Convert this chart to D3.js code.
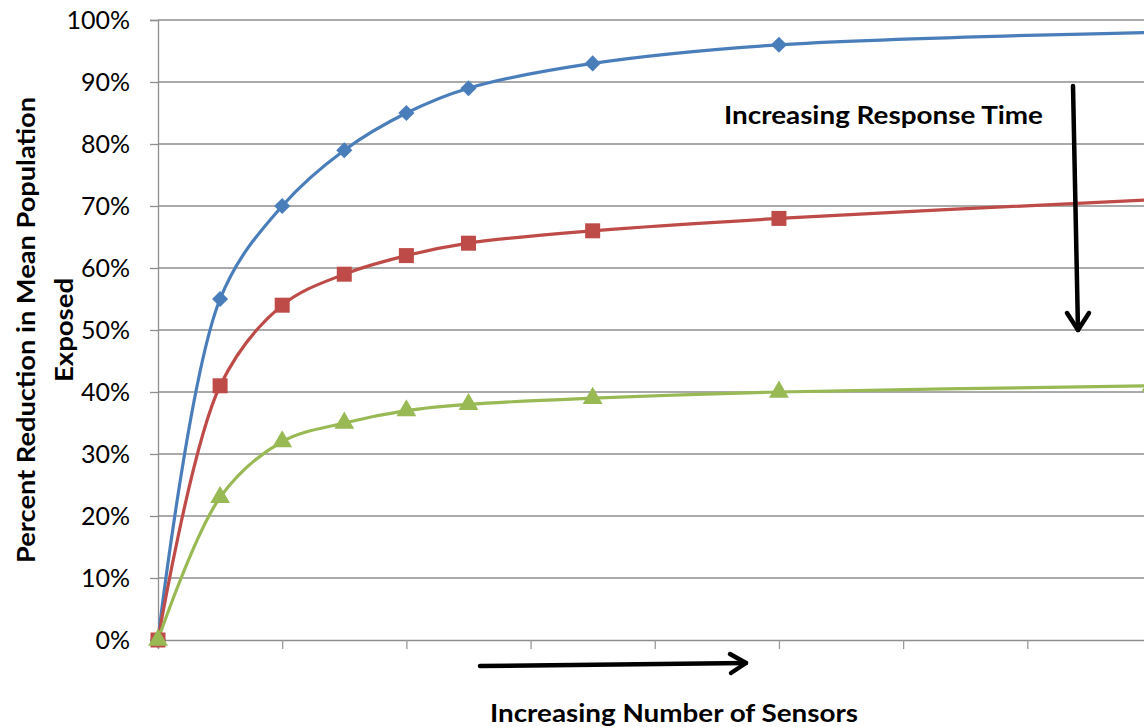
<!DOCTYPE html>
<html><head><meta charset="utf-8">
<script src="https://cdn.jsdelivr.net/npm/d3@7"></script>
<style>
html,body{margin:0;padding:0;background:#fff;overflow:hidden;}
svg{display:block;}
text{font-family:Lato,"Open Sans",sans-serif;fill:#000;}
</style></head>
<body>
<svg id="chart" width="1144" height="727"></svg>
<script>
const sensors = [0, 5, 10, 15, 20, 25, 35, 50, 80];
const fastResponse = [0, 55, 70, 79, 85, 89, 93, 96, 98];
const mediumResponse = [0, 41, 54, 59, 62, 64, 66, 68, 71];
const slowResponse = [0, 23, 32, 35, 37, 38, 39, 40, 41];
const yTicks = [0, 10, 20, 30, 40, 50, 60, 70, 80, 90, 100];
const xTicks = [0, 10, 20, 30, 40, 50, 60, 70, 80];

const diamond = {draw(ctx, size) { const r = Math.sqrt(size / 2); ctx.moveTo(0, -r); ctx.lineTo(r, 0); ctx.lineTo(0, r); ctx.lineTo(-r, 0); ctx.closePath(); }};

const series = [
  {values: fastResponse, color: "#4A7EBB", symbol: diamond, size: 130},
  {values: mediumResponse, color: "#BE4B48", symbol: d3.symbolSquare, size: 225},
  {values: slowResponse, color: "#98B954", symbol: d3.symbolTriangle, size: 170}
];

const svg = d3.select("#chart");
const x = d3.scaleLinear().domain([0, 80]).range([158, 1151.5]);
const y = d3.scaleLinear().domain([0, 100]).range([640, 20]);

// gridlines
svg.append("g").selectAll("line").data(yTicks.filter(d => d > 0)).join("line")
  .attr("x1", 158).attr("x2", 1160)
  .attr("y1", d => y(d)).attr("y2", d => y(d))
  .attr("stroke", "#8e8e8e").attr("stroke-width", 1.3);

// y axis
const yAxis = d3.axisLeft(y).tickValues(yTicks).tickSize(8).tickPadding(20)
  .tickFormat(d => d + "%");
const gy = svg.append("g").attr("transform", "translate(158,0)").call(yAxis);
gy.select(".domain").attr("stroke", "#8e8e8e").attr("stroke-width", 1.3);
gy.selectAll(".tick line").attr("stroke", "#8e8e8e").attr("stroke-width", 1.3);
gy.selectAll(".tick text").style("font-family", "Lato, sans-serif").style("font-size", "25px").attr("fill", "#000");

// x axis
const xAxis = d3.axisBottom(x).tickValues(xTicks).tickSize(9).tickFormat("");
const gx = svg.append("g").attr("transform", "translate(0,640)").call(xAxis);
gx.select(".domain").attr("stroke", "#8e8e8e").attr("stroke-width", 1.3);
gx.selectAll(".tick line").attr("stroke", "#9a9a9a").attr("stroke-width", 1.3);

// lines
const line = d3.line()
  .x((d, i) => x(sensors[i]))
  .y(d => y(d))
  .curve(d3.curveCatmullRom.alpha(0.5));

series.forEach(s => {
  svg.append("path").datum(s.values)
    .attr("d", line).attr("fill", "none")
    .attr("stroke", s.color).attr("stroke-width", 3.2);
});
series.forEach(s => {
  svg.append("g").selectAll("path").data(s.values).join("path")
    .attr("transform", (d, i) => `translate(${x(sensors[i])},${y(d)})`)
    .attr("d", d3.symbol().type(s.symbol).size(s.size))
    .attr("fill", s.color);
});

// arrows
const arrows = svg.append("g").attr("stroke", "#000").attr("stroke-width", 4.5)
  .attr("fill", "none").attr("stroke-linecap", "round").attr("stroke-linejoin", "round");
arrows.append("path").attr("d", "M1073,86 L1078,330");
arrows.append("path").attr("d", "M1067,313 L1078,330 L1089,313");
arrows.append("path").attr("d", "M480,666 L746,663");
arrows.append("path").attr("d", "M730,654 L746,663 L731,673");

// texts
svg.append("text").attr("x", 724).attr("y", 124)
  .attr("textLength", 319).attr("lengthAdjust", "spacingAndGlyphs")
  .style("font-size", "25px").style("font-weight", "bold").text("Increasing Response Time");

svg.append("text").attr("x", 490).attr("y", 722)
  .attr("textLength", 368).attr("lengthAdjust", "spacingAndGlyphs")
  .style("font-size", "25px").style("font-weight", "bold").text("Increasing Number of Sensors");

const yt = svg.append("g").attr("transform", "translate(0,330) rotate(-90)");
yt.append("text").attr("x", 0).attr("y", 35).attr("text-anchor", "middle")
  .attr("textLength", 466).attr("lengthAdjust", "spacingAndGlyphs")
  .style("font-size", "24px").style("font-weight", "bold").text("Percent Reduction in Mean Population");
yt.append("text").attr("x", 0).attr("y", 73).attr("text-anchor", "middle")
  .attr("textLength", 104).attr("lengthAdjust", "spacingAndGlyphs")
  .style("font-size", "24px").style("font-weight", "bold").text("Exposed");
</script>
</body></html>
